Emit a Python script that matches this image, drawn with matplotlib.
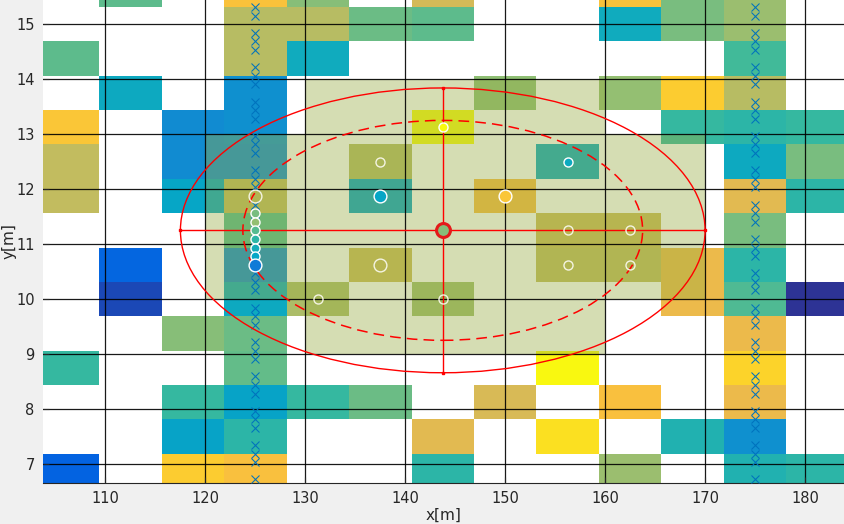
import numpy as np
import matplotlib
from matplotlib.colors import LinearSegmentedColormap, ListedColormap

matplotlib.use('Agg')
import matplotlib.pyplot as plt
from matplotlib.patches import Ellipse

N = np.nan

# parula-like colormap, sampled from MATLAB's 64 entry table
parula = LinearSegmentedColormap.from_list('parula', [
    (0.0, (0.2081, 0.1663, 0.5292)),
    (8 / 63, (0.0117, 0.3875, 0.8820)),
    (16 / 63, (0.0793, 0.5200, 0.8312)),
    (24 / 63, (0.0228, 0.6535, 0.7768)),
    (32 / 63, (0.2178, 0.7250, 0.6193)),
    (40 / 63, (0.5709, 0.7485, 0.4494)),
    (48 / 63, (0.8507, 0.7299, 0.3360)),
    (52 / 63, (0.9739, 0.7314, 0.2666)),
    (56 / 63, (0.9880, 0.8066, 0.1794)),
    (1.0, (0.9763, 0.9831, 0.0538)),
])

# fine map: cell centres
cell_x = [106.25, 112.5, 118.75, 125.0, 131.25, 137.5, 143.75,
          150.0, 156.25, 162.5, 168.75, 175.0, 181.25]
cell_y = [15.625, 15.0, 14.375, 13.75, 13.125, 12.5, 11.875, 11.25,
          10.625, 10.0, 9.375, 8.75, 8.125, 7.5, 6.875]
# values, top row first (NaN = no data)
cell_val = [
    [N, .56, N, .85, .62, N, .75, N, N, .85, .60, .65, N],
    [N, N, N, .70, .70, .58, .56, N, N, .41, .60, .65, N],
    [.56, N, N, .70, .41, N, N, N, N, N, N, .52, N],
    [N, .40, N, .30, N, N, N, .63, N, .64, .88, .70, N],
    [.86, N, .28, .30, N, N, 1.0, N, N, N, .50, .48, .50],
    [.72, N, .28, .28, N, .70, N, N, .40, N, N, .40, .60],
    [.72, N, .38, .72, N, .37, N, .83, N, N, N, .78, .48],
    [N, N, N, .55, N, N, N, N, .74, .74, N, .60, N],
    [N, .14, N, .28, N, .74, N, N, .72, .72, .80, .48, N],
    [N, .07, N, .40, .68, N, .66, N, N, N, .80, .54, .02],
    [N, N, .62, .58, N, N, N, N, N, N, N, .80, N],
    [.50, N, N, .57, N, N, N, N, .99, N, N, .90, N],
    [N, N, .50, .37, .50, .58, N, .76, N, .84, N, .80, N],
    [N, N, .37, .48, N, N, .78, N, .93, N, .45, .30, N],
    [.13, N, .88, .84, N, N, .48, N, N, .65, N, .45, .48],
]
cell_w = 6.25
cell_h = 0.625

# coarse region (10 x 1 m cells) highlighted around the estimate
region_x = [120, 130, 140, 150, 160, 170]
region_y = [9, 10, 11, 12, 13, 14]
region_mask = [  # bottom row first
    [N, 1, 1, 1, N],
    [1, 1, 1, 1, 1],
    [1, 1, 1, 1, 1],
    [1, 1, 1, 1, 1],
    [N, 1, 1, 1, N],
]

# candidate sample positions (x markers) along the two tracks
track_x = [125.0, 175.0]
track_y = [15.3125, 15.15625, 14.84375, 14.6875, 14.53125, 14.21875, 14.0625,
           13.90625, 13.59375, 13.4375, 13.28125, 12.96875, 12.8125, 12.65625,
           12.34375, 12.1875, 12.03125, 11.71875, 11.5625, 11.40625, 11.09375,
           10.9375, 10.78125, 10.46875, 10.3125, 10.15625, 9.84375, 9.6875,
           9.53125, 9.21875, 9.0625, 8.90625, 8.59375, 8.4375, 8.28125,
           7.96875, 7.8125, 7.65625, 7.34375, 7.1875, 7.03125, 6.71875]

# selected points (filled with their value)
pt_x = [125.0, 125.0, 125.0, 125.0, 125.0, 125.0, 125.0, 143.75, 137.5, 150.0, 156.25]
pt_y = [11.5625, 11.40625, 11.25, 11.09375, 10.9375, 10.78125, 10.625, 13.125, 11.875, 11.875, 12.5]
pt_val = [.60, .64, .55, .48, .42, .38, .22, 1.0, .38, .86, .40]
pt_big = [False, False, False, False, False, False, True, False, True, True, False]

# points without value (hollow)
empty_x = [125.0, 137.5, 156.25, 162.5, 137.5, 156.25, 162.5, 131.25, 143.75]
empty_y = [11.875, 12.5, 11.25, 11.25, 10.625, 10.625, 10.625, 10.0, 10.0]
empty_big = [True, False, False, False, True, False, False, False, False]

# estimate and its confidence ellipses
est_x, est_y, est_val = 143.75, 11.25, .62
ell_outer = (26.25, 2.59)
ell_inner = (20.0, 2.0)

fig = plt.figure(figsize=(8.45, 5.24), dpi=100, facecolor='#f0f0f0')
ax = fig.add_axes([43 / 845, 41.3 / 524, 802 / 845, 482.7 / 524])

xe = np.append(np.array(cell_x) - cell_w / 2, cell_x[-1] + cell_w / 2)
ye = np.append(np.array(cell_y[::-1]) - cell_h / 2, cell_y[0] + cell_h / 2)
vals = np.ma.masked_invalid(np.flipud(np.array(cell_val)))
ax.pcolormesh(xe, ye, vals, cmap=parula, vmin=0, vmax=1,
              edgecolors='none', antialiased=False, zorder=0)

ax.pcolormesh(region_x, region_y, np.ma.masked_invalid(np.array(region_mask)),
              cmap=ListedColormap([(152 / 255, 172 / 255, 67 / 255)]),
              alpha=0.4, edgecolors='none', antialiased=False, zorder=1)

for tx in track_x:
    ax.plot([tx] * len(track_y), track_y, 'x', color=(0, 0.447, 0.741),
            ms=6, mew=0.75, zorder=3)

# ellipses and axes of the estimate
ax.add_patch(Ellipse((est_x, est_y), 2 * ell_outer[0], 2 * ell_outer[1],
                     fill=False, ec='r', lw=1.0, zorder=4))
ax.add_patch(Ellipse((est_x, est_y), 2 * ell_inner[0], 2 * ell_inner[1],
                     fill=False, ec='r', lw=1.1, ls=(0, (7, 4)), zorder=4))
ax.plot([est_x - ell_outer[0], est_x + ell_outer[0]], [est_y, est_y],
        '-', color='r', lw=1.0, zorder=4)
ax.plot([est_x, est_x], [est_y - ell_outer[1], est_y + ell_outer[1]],
        '-', color='r', lw=1.0, zorder=4)
ax.plot([est_x - ell_outer[0], est_x + ell_outer[0], est_x, est_x],
        [est_y, est_y, est_y - ell_outer[1], est_y + ell_outer[1]],
        's', color='r', ms=2, zorder=4)

for x, y, v, big in zip(pt_x, pt_y, pt_val, pt_big):
    ax.plot(x, y, 'o', ms=9.2 if big else 6.5, mfc=parula(v), mec='white',
            mew=1.0, zorder=5)
for x, y, big in zip(empty_x, empty_y, empty_big):
    ax.plot(x, y, 'o', ms=9.2 if big else 6.5, mfc='none', mec='#f4f4e2',
            mew=1.0, zorder=5)
ax.plot(est_x, est_y, 'o', ms=10, mfc=parula(est_val), mec='#e41a1a',
        mew=2.2, zorder=6)

ax.set_xlim(103.75, 184.0)
ax.set_ylim(6.66, 15.44)
ax.set_xticks(np.arange(110, 181, 10))
ax.set_yticks(np.arange(7, 16, 1))
ax.set_axisbelow(False)
ax.grid(True, color='black', lw=0.9, alpha=0.9)
ax.tick_params(direction='in', length=4, labelsize=10.5, colors='#262626',
               pad=6)
for side in ['left', 'top', 'right']:
    ax.spines[side].set_visible(False)
ax.spines['bottom'].set_color('#262626')
ax.set_xlabel('x[m]', fontsize=11, color='#262626', labelpad=1)
ax.set_ylabel('y[m]', fontsize=11, color='#262626')
ax.yaxis.set_label_coords(-0.033, 0.5)

fig.savefig('out.png', dpi=100, facecolor=fig.get_facecolor())
